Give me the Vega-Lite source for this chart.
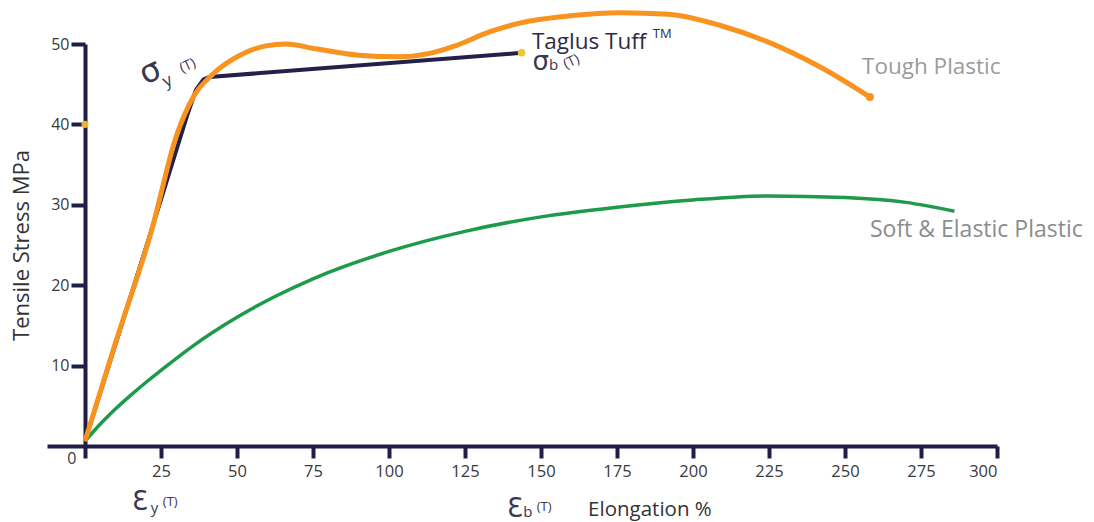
{
  "$schema": "https://vega.github.io/schema/vega-lite/v6.json",
  "autosize": {"type": "none"},
  "width": 950,
  "height": 402,
  "padding": {"left": 47, "top": 44, "right": 97, "bottom": 76},
  "background": "white",
  "config": {"view": {"stroke": null}, "font": "Open Sans"},
  "datasets": {
    "curves": [
      {"series": "Tough Plastic", "x": 0, "y": 0.6},
      {"series": "Tough Plastic", "x": 10, "y": 12.8},
      {"series": "Tough Plastic", "x": 21.9, "y": 26.8},
      {"series": "Tough Plastic", "x": 30, "y": 38.5},
      {"series": "Tough Plastic", "x": 35.6, "y": 43.4},
      {"series": "Tough Plastic", "x": 42.2, "y": 46.3},
      {"series": "Tough Plastic", "x": 51, "y": 48.6},
      {"series": "Tough Plastic", "x": 60, "y": 49.8},
      {"series": "Tough Plastic", "x": 66, "y": 50.0},
      {"series": "Tough Plastic", "x": 76, "y": 49.4},
      {"series": "Tough Plastic", "x": 90, "y": 48.6},
      {"series": "Tough Plastic", "x": 103, "y": 48.4},
      {"series": "Tough Plastic", "x": 113, "y": 48.8},
      {"series": "Tough Plastic", "x": 122, "y": 49.8},
      {"series": "Tough Plastic", "x": 133, "y": 51.5},
      {"series": "Tough Plastic", "x": 143, "y": 52.6},
      {"series": "Tough Plastic", "x": 159.5, "y": 53.5},
      {"series": "Tough Plastic", "x": 176, "y": 53.9},
      {"series": "Tough Plastic", "x": 192, "y": 53.7},
      {"series": "Tough Plastic", "x": 209, "y": 52.3},
      {"series": "Tough Plastic", "x": 225, "y": 50.2},
      {"series": "Tough Plastic", "x": 242, "y": 47.1},
      {"series": "Tough Plastic", "x": 258.2, "y": 43.4},
      {"series": "Taglus Tuff", "x": 0, "y": 0.6},
      {"series": "Taglus Tuff", "x": 21.4, "y": 26.3},
      {"series": "Taglus Tuff", "x": 33.5, "y": 41.0},
      {"series": "Taglus Tuff", "x": 36.5, "y": 44.3},
      {"series": "Taglus Tuff", "x": 39, "y": 45.6},
      {"series": "Taglus Tuff", "x": 41, "y": 45.9},
      {"series": "Taglus Tuff", "x": 143.6, "y": 48.9},
      {"series": "Soft & Elastic Plastic", "x": 0, "y": 0.6},
      {"series": "Soft & Elastic Plastic", "x": 3, "y": 1.9},
      {"series": "Soft & Elastic Plastic", "x": 6, "y": 3.1},
      {"series": "Soft & Elastic Plastic", "x": 10, "y": 4.6},
      {"series": "Soft & Elastic Plastic", "x": 15, "y": 6.3},
      {"series": "Soft & Elastic Plastic", "x": 20, "y": 7.9},
      {"series": "Soft & Elastic Plastic", "x": 25, "y": 9.4},
      {"series": "Soft & Elastic Plastic", "x": 35, "y": 12.3},
      {"series": "Soft & Elastic Plastic", "x": 50, "y": 16.0},
      {"series": "Soft & Elastic Plastic", "x": 62, "y": 18.5},
      {"series": "Soft & Elastic Plastic", "x": 75, "y": 20.8},
      {"series": "Soft & Elastic Plastic", "x": 100, "y": 24.2},
      {"series": "Soft & Elastic Plastic", "x": 125, "y": 26.7},
      {"series": "Soft & Elastic Plastic", "x": 150, "y": 28.5},
      {"series": "Soft & Elastic Plastic", "x": 175, "y": 29.7},
      {"series": "Soft & Elastic Plastic", "x": 200, "y": 30.6},
      {"series": "Soft & Elastic Plastic", "x": 225, "y": 31.1},
      {"series": "Soft & Elastic Plastic", "x": 250, "y": 30.9},
      {"series": "Soft & Elastic Plastic", "x": 270, "y": 30.3},
      {"series": "Soft & Elastic Plastic", "x": 286, "y": 29.2}
    ],
    "dots": [
      {"role": "tough end", "x": 258.2, "y": 43.4},
      {"role": "tuff end", "x": 143.6, "y": 48.9},
      {"role": "axis mark", "x": 0, "y": 40}
    ],
    "notes": [
      {"role": "tough", "x": 255.6, "y": 46.3, "text": "Tough Plastic"},
      {"role": "soft", "x": 258.2, "y": 26.0, "text": "Soft & Elastic Plastic"},
      {"role": "brand", "x": 147, "y": 49.4, "text": "Taglus Tuff"},
      {"role": "tm", "x": 186.8, "y": 50.7, "text": "TM"},
      {"role": "symB", "x": 147.2, "y": 46.8, "text": "σ"},
      {"role": "sym", "x": 15.5, "y": -7.95, "text": "Ɛ"},
      {"role": "sym", "x": 138.8, "y": -8.8, "text": "Ɛ"},
      {"role": "symTilt", "x": 19.8, "y": 44.9, "text": "σ"},
      {"role": "sub", "x": 152.6, "y": 46.8, "text": "b"},
      {"role": "sub", "x": 21.6, "y": -8.3, "text": "y"},
      {"role": "sub", "x": 144.2, "y": -8.8, "text": "b"},
      {"role": "subTilt", "x": 26.6, "y": 44.6, "text": "y"},
      {"role": "paren", "x": 25.6, "y": -7.45, "text": "(T)"},
      {"role": "paren", "x": 148.6, "y": -8.1, "text": "(T)"},
      {"role": "parenTilt", "x": 32.0, "y": 46.4, "text": "(T)"},
      {"role": "parenTilt", "x": 158.2, "y": 46.9, "text": "(T)"},
      {"role": "xtitle", "x": 165.5, "y": -8.7, "text": "Elongation %"},
      {"role": "zero", "x": -4.3, "y": -2.2, "text": "0"}
    ]
  },
  "layer": [
    {
      "data": {"name": "curves"},
      "transform": [{"filter": "datum.series === 'Soft & Elastic Plastic'"}],
      "mark": {"type": "line", "interpolate": "monotone", "color": "#1d9a4a", "strokeWidth": 3.5},
      "encoding": {
        "x": {
          "field": "x", "type": "quantitative",
          "scale": {"domain": [-12.5, 300], "nice": false, "zero": false},
          "axis": {
            "values": [0, 25, 50, 75, 100, 125, 150, 175, 200, 225, 250, 275, 300],
            "labelExpr": "datum.value === 0 ? '' : datum.label",
            "title": null, "grid": false,
            "domainColor": "#201d46", "domainWidth": 4,
            "tickColor": "#201d46", "tickWidth": 4, "tickSize": 12,
            "labelFontSize": 16.5, "labelColor": "#3a3a3a", "labelPadding": 5,
            "labelFont": "Open Sans"
          }
        },
        "y": {
          "field": "y", "type": "quantitative",
          "scale": {"domain": [0, 50], "nice": false},
          "axis": {
            "values": [10, 20, 30, 40, 50],
            "offset": -38,
            "title": "Tensile Stress MPa", "titleFontSize": 22, "titleFontWeight": "normal",
            "titleColor": "#333333", "titlePadding": 17, "titleFont": "Open Sans",
            "grid": false,
            "domainColor": "#201d46", "domainWidth": 4,
            "tickColor": "#201d46", "tickWidth": 4, "tickSize": 14,
            "labelFontSize": 16, "labelColor": "#3a3a3a", "labelPadding": 2,
            "labelFont": "Open Sans"
          }
        }
      }
    },
    {
      "data": {"name": "curves"},
      "transform": [{"filter": "datum.series === 'Taglus Tuff'"}],
      "mark": {"type": "line", "interpolate": "linear", "color": "#23204a", "strokeWidth": 4, "strokeJoin": "round"},
      "encoding": {"x": {"field": "x", "type": "quantitative"}, "y": {"field": "y", "type": "quantitative"}}
    },
    {
      "data": {"name": "curves"},
      "transform": [{"filter": "datum.series === 'Tough Plastic'"}],
      "mark": {"type": "line", "interpolate": "monotone", "color": "#f7931e", "strokeWidth": 5},
      "encoding": {"x": {"field": "x", "type": "quantitative"}, "y": {"field": "y", "type": "quantitative"}}
    },
    {
      "data": {"name": "dots"},
      "mark": {"type": "point", "filled": true, "opacity": 1},
      "encoding": {
        "x": {"field": "x", "type": "quantitative"},
        "y": {"field": "y", "type": "quantitative"},
        "color": {"field": "role", "type": "nominal", "legend": null,
          "scale": {"domain": ["tough end", "tuff end", "axis mark"], "range": ["#f7931e", "#f3c431", "#e8b23a"]}},
        "size": {"field": "role", "type": "nominal", "legend": null,
          "scale": {"domain": ["tough end", "tuff end", "axis mark"], "range": [64, 50, 40]}}
      }
    },
    {
      "data": {"name": "notes"},
      "transform": [{"filter": "datum.role === 'tough'"}],
      "mark": {"type": "text", "align": "left", "baseline": "alphabetic", "fontSize": 22.5, "color": "#9b9b9b"},
      "encoding": {"x": {"field": "x", "type": "quantitative"}, "y": {"field": "y", "type": "quantitative"}, "text": {"field": "text"}}
    },
    {
      "data": {"name": "notes"},
      "transform": [{"filter": "datum.role === 'soft'"}],
      "mark": {"type": "text", "align": "left", "baseline": "alphabetic", "fontSize": 23, "color": "#8c8c8c"},
      "encoding": {"x": {"field": "x", "type": "quantitative"}, "y": {"field": "y", "type": "quantitative"}, "text": {"field": "text"}}
    },
    {
      "data": {"name": "notes"},
      "transform": [{"filter": "datum.role === 'brand'"}],
      "mark": {"type": "text", "align": "left", "baseline": "alphabetic", "fontSize": 22.5, "color": "#2e2c45"},
      "encoding": {"x": {"field": "x", "type": "quantitative"}, "y": {"field": "y", "type": "quantitative"}, "text": {"field": "text"}}
    },
    {
      "data": {"name": "notes"},
      "transform": [{"filter": "datum.role === 'tm'"}],
      "mark": {"type": "text", "align": "left", "baseline": "alphabetic", "fontSize": 13, "color": "#2e2c45"},
      "encoding": {"x": {"field": "x", "type": "quantitative"}, "y": {"field": "y", "type": "quantitative"}, "text": {"field": "text"}}
    },
    {
      "data": {"name": "notes"},
      "transform": [{"filter": "datum.role === 'sym'"}],
      "mark": {"type": "text", "align": "left", "baseline": "alphabetic", "fontSize": 26, "color": "#3a3850", "font": "DejaVu Sans"},
      "encoding": {"x": {"field": "x", "type": "quantitative"}, "y": {"field": "y", "type": "quantitative"}, "text": {"field": "text"}}
    },
    {
      "data": {"name": "notes"},
      "transform": [{"filter": "datum.role === 'symB'"}],
      "mark": {"type": "text", "align": "left", "baseline": "alphabetic", "fontSize": 26, "color": "#3a3850", "font": "DejaVu Sans"},
      "encoding": {"x": {"field": "x", "type": "quantitative"}, "y": {"field": "y", "type": "quantitative"}, "text": {"field": "text"}}
    },
    {
      "data": {"name": "notes"},
      "transform": [{"filter": "datum.role === 'symTilt'"}],
      "mark": {"type": "text", "align": "left", "baseline": "alphabetic", "fontSize": 32, "angle": -25, "color": "#3a3850", "font": "DejaVu Sans"},
      "encoding": {"x": {"field": "x", "type": "quantitative"}, "y": {"field": "y", "type": "quantitative"}, "text": {"field": "text"}}
    },
    {
      "data": {"name": "notes"},
      "transform": [{"filter": "datum.role === 'sub'"}],
      "mark": {"type": "text", "align": "left", "baseline": "alphabetic", "fontSize": 15, "color": "#3a3850"},
      "encoding": {"x": {"field": "x", "type": "quantitative"}, "y": {"field": "y", "type": "quantitative"}, "text": {"field": "text"}}
    },
    {
      "data": {"name": "notes"},
      "transform": [{"filter": "datum.role === 'subTilt'"}],
      "mark": {"type": "text", "align": "left", "baseline": "alphabetic", "fontSize": 17, "angle": -25, "color": "#3a3850"},
      "encoding": {"x": {"field": "x", "type": "quantitative"}, "y": {"field": "y", "type": "quantitative"}, "text": {"field": "text"}}
    },
    {
      "data": {"name": "notes"},
      "transform": [{"filter": "datum.role === 'paren'"}],
      "mark": {"type": "text", "align": "left", "baseline": "alphabetic", "fontSize": 13, "color": "#3a3850"},
      "encoding": {"x": {"field": "x", "type": "quantitative"}, "y": {"field": "y", "type": "quantitative"}, "text": {"field": "text"}}
    },
    {
      "data": {"name": "notes"},
      "transform": [{"filter": "datum.role === 'parenTilt'"}],
      "mark": {"type": "text", "align": "left", "baseline": "alphabetic", "fontSize": 14, "angle": -25, "color": "#3a3850"},
      "encoding": {"x": {"field": "x", "type": "quantitative"}, "y": {"field": "y", "type": "quantitative"}, "text": {"field": "text"}}
    },
    {
      "data": {"name": "notes"},
      "transform": [{"filter": "datum.role === 'xtitle'"}],
      "mark": {"type": "text", "align": "left", "baseline": "alphabetic", "fontSize": 20.5, "color": "#333333"},
      "encoding": {"x": {"field": "x", "type": "quantitative"}, "y": {"field": "y", "type": "quantitative"}, "text": {"field": "text"}}
    },
    {
      "data": {"name": "notes"},
      "transform": [{"filter": "datum.role === 'zero'"}],
      "mark": {"type": "text", "align": "center", "baseline": "alphabetic", "fontSize": 16, "color": "#3a3a3a"},
      "encoding": {"x": {"field": "x", "type": "quantitative"}, "y": {"field": "y", "type": "quantitative"}, "text": {"field": "text"}}
    }
  ]
}
